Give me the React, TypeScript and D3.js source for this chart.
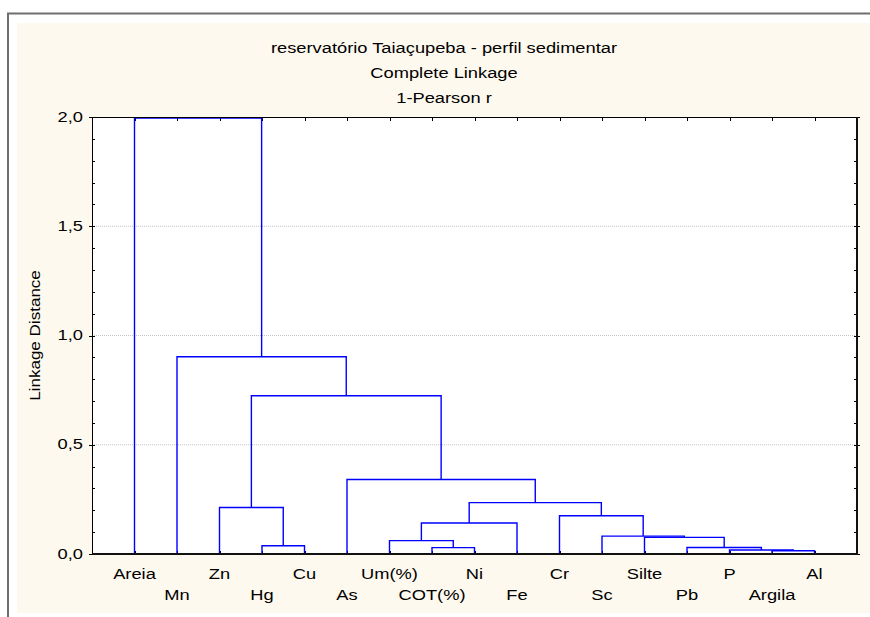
import { useEffect, useRef } from "react";
import * as d3 from "d3";

// leaf order as drawn on the x axis
const LEAVES = ["Areia", "Mn", "Zn", "Hg", "Cu", "As", "Um(%)", "COT(%)", "Ni", "Fe", "Cr", "Sc", "Silte", "Pb", "P", "Argila", "Al"];

// linkage steps: node ids 0..16 are leaves, merge i creates node 17 + i
const MERGE_LEFT = [15, 14, 13, 12, 11, 10, 7, 6, 24, 25, 5, 3, 2, 29, 1, 0];
const MERGE_RIGHT = [16, 17, 18, 19, 20, 21, 8, 23, 9, 22, 26, 4, 28, 27, 30, 31];
const MERGE_HEIGHT = [0.015, 0.018, 0.03, 0.076, 0.082, 0.175, 0.029, 0.061, 0.142, 0.235, 0.341, 0.038, 0.213, 0.724, 0.903, 1.995];

const Y_TICKS = [0, 0.5, 1.0, 1.5, 2.0];
const TITLE_LINES = ["reservatório Taiaçupeba - perfil sedimentar", "Complete Linkage", "1-Pearson r"];
const Y_LABEL = "Linkage Distance";

const W = 870;
const H = 617;
const FONT = "'Liberation Sans', Arial, sans-serif";
const SX = 1.18; // glyphs in the source are a bit wider than Arial

export default function App() {
  const svgRef = useRef<SVGSVGElement>(null);

  useEffect(() => {
    if (!svgRef.current) return;
    const svg = d3.select(svgRef.current);
    svg.selectAll("*").remove();

    const left = 92, right = 857, top = 117, bottom = 554;

    const x = d3.scalePoint<string>().domain(LEAVES).range([left, right]).padding(1);
    const y = d3.scaleLinear().domain([0, 2]).range([bottom, top]);

    // frame + panel
    svg.append("rect").attr("x", 17).attr("y", 23).attr("width", W - 17).attr("height", 590).attr("fill", "#fef9ee");
    svg.append("path")
      .attr("d", `M8,${H} V13.5 H${W}`)
      .attr("fill", "none").attr("stroke", "#6e6e6e").attr("stroke-width", 2);

    svg.append("rect")
      .attr("x", left).attr("y", top).attr("width", right - left).attr("height", bottom - top)
      .attr("fill", "#fff");

    const text = (tx: number, ty: number, s: string, anchor = "middle", sx = SX, rot = 0) => {
      svg.append("g")
        .attr("transform", `translate(${tx},${ty}) rotate(${rot}) scale(${sx},1)`)
        .append("text")
        .attr("text-anchor", anchor)
        .attr("font-family", FONT)
        .attr("font-size", 15.5)
        .attr("fill", "#000")
        .text(s);
    };

    // titles
    TITLE_LINES.forEach((t, i) => text(444, 52.5 + i * 25, t));

    // grid lines
    const grid = svg.append("g");
    Y_TICKS.filter((v) => v > 0 && v < 2).forEach((v) => {
      grid.append("line")
        .attr("x1", left).attr("x2", right).attr("y1", y(v)).attr("y2", y(v))
        .attr("stroke", "#c4c4c4").attr("stroke-width", 1).attr("stroke-dasharray", "1,1");
    });

    // y ticks (major + minor) on both sides
    const ax = svg.append("g").attr("stroke", "#000").attr("stroke-width", 1);
    d3.range(0, 2.0001, 0.1).forEach((v) => {
      const major = Math.abs(v * 2 - Math.round(v * 2)) < 1e-6;
      const yy = Math.round(y(v)) + 0.5;
      ax.append("line").attr("x1", major ? left - 3 : left).attr("x2", left + 3).attr("y1", yy).attr("y2", yy);
      ax.append("line").attr("x1", right - 3).attr("x2", major ? right + 3 : right).attr("y1", yy).attr("y2", yy);
    });
    Y_TICKS.forEach((v) => text(83, y(v) + 4.5, d3.format(".1f")(v).replace(".", ","), "end"));

    // x ticks at leaf positions, top and bottom
    LEAVES.forEach((l) => {
      const xx = Math.round(x(l)!) + 0.5;
      ax.append("line").attr("x1", xx).attr("x2", xx).attr("y1", top).attr("y2", top + 4);
      ax.append("line").attr("x1", xx).attr("x2", xx).attr("y1", bottom).attr("y2", bottom - 3);
    });
    LEAVES.forEach((l, i) => text(x(l)!, i % 2 === 0 ? 579 : 600, l));

    // y axis title
    text(40, (top + bottom) / 2, Y_LABEL, "middle", 1.1, -90);

    // dendrogram
    const nodeX: number[] = LEAVES.map((l) => x(l)!);
    const nodeH: number[] = LEAVES.map(() => 0);
    const links = svg.append("g").attr("fill", "none").attr("stroke", "#0000ff").attr("stroke-width", 1.4);
    MERGE_LEFT.forEach((a, i) => {
      const b = MERGE_RIGHT[i];
      const h = MERGE_HEIGHT[i];
      const p = d3.path();
      p.moveTo(nodeX[a], y(nodeH[a]));
      p.lineTo(nodeX[a], y(h));
      p.lineTo(nodeX[b], y(h));
      p.lineTo(nodeX[b], y(nodeH[b]));
      links.append("path").attr("d", p.toString());
      nodeX.push((nodeX[a] + nodeX[b]) / 2);
      nodeH.push(h);
    });

    // plot border, right/bottom edges heavier
    svg.append("rect")
      .attr("x", left + 0.5).attr("y", top + 0.5).attr("width", right - left - 1).attr("height", bottom - top - 1)
      .attr("fill", "none").attr("stroke", "#000").attr("stroke-width", 1);
    svg.append("path")
      .attr("d", `M${right},${top} V${bottom} H${left}`)
      .attr("fill", "none").attr("stroke", "#111").attr("stroke-width", 2);
  }, []);

  return (
    <div style={{ position: "absolute", left: 0, top: 0 }}>
      <svg ref={svgRef} width={W} height={H} style={{ display: "block" }} />
    </div>
  );
}
